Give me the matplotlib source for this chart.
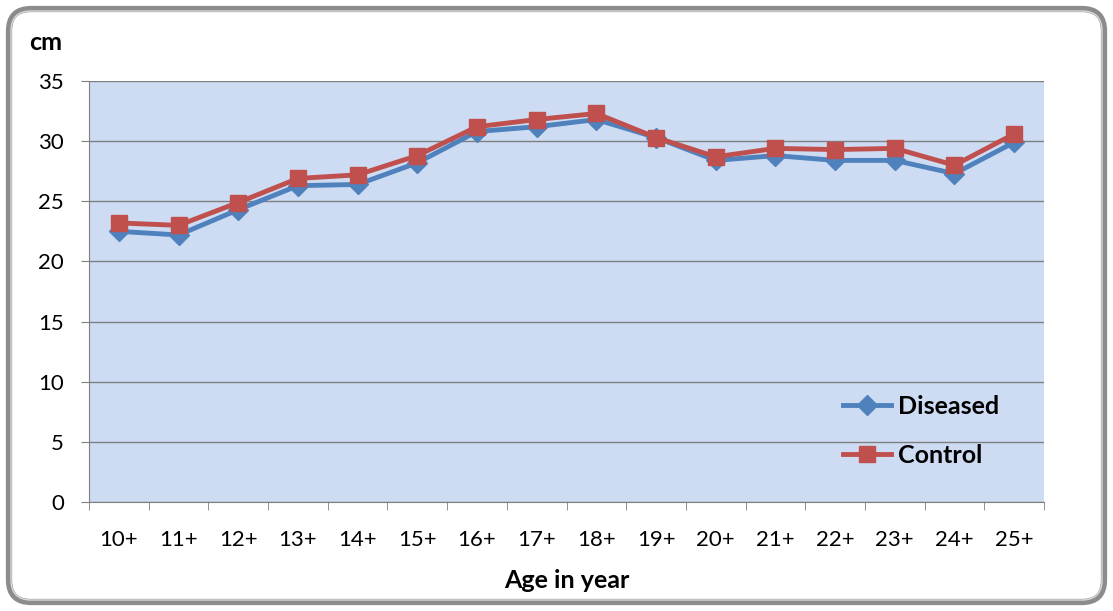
import numpy as np
import matplotlib.pyplot as plt
from matplotlib.patches import FancyBboxPatch
from matplotlib.transforms import IdentityTransform

# data
ages = ['10+', '11+', '12+', '13+', '14+', '15+', '16+', '17+',
        '18+', '19+', '20+', '21+', '22+', '23+', '24+', '25+']
diseased = [22.5, 22.2, 24.3, 26.3, 26.4, 28.2, 30.8, 31.2,
            31.8, 30.3, 28.4, 28.8, 28.4, 28.4, 27.3, 29.9]
control = [23.2, 23.0, 24.9, 26.9, 27.2, 28.8, 31.2, 31.8,
           32.3, 30.3, 28.7, 29.4, 29.3, 29.4, 28.0, 30.6]

plt.rcParams['font.family'] = ['Lato', 'DejaVu Sans']

fig = plt.figure(figsize=(11.13, 6.11), dpi=100)
fig.patch.set_facecolor('white')

# rounded outer frame (pixel coords)
fig.patches.append(FancyBboxPatch((9, 9), 1095, 593, boxstyle='round,pad=0,rounding_size=22',
                                  transform=IdentityTransform(), fill=False,
                                  edgecolor='#8c8c8c', linewidth=4.5))
fig.patches.append(FancyBboxPatch((11, 11), 1091, 589, boxstyle='round,pad=0,rounding_size=20',
                                  transform=IdentityTransform(), fill=False,
                                  edgecolor='#d9d9d9', linewidth=1.0))

ax = fig.add_axes([0.080, 0.1784, 0.858, 0.689])
ax.set_facecolor('#cddcf3')

x = np.arange(len(ages))
ax.plot(x, diseased, color='#4F81BD', lw=3.5, marker='D', ms=10, label='Diseased', zorder=3)
ax.plot(x, control, color='#C0504D', lw=3.5, marker='s', ms=12, label='Control', zorder=4)

ax.set_xlim(-0.5, len(ages) - 0.5)
ax.set_ylim(0, 35)
ax.set_yticks(range(0, 36, 5))
ax.yaxis.grid(True, color='#7f7f7f', lw=1)
ax.set_axisbelow(True)

ax.set_xticks(x)
ax.set_xticklabels(ages, fontsize=16)
ax.set_xticks(np.arange(-0.5, len(ages), 1), minor=True)
ax.tick_params(axis='x', which='major', length=0, pad=20)
ax.tick_params(axis='x', which='minor', length=6, color='#7f7f7f')
ax.tick_params(axis='y', labelsize=16, length=6, color='#7f7f7f', pad=12)

for s in ['top', 'right']:
    ax.spines[s].set_visible(False)
for s in ['left', 'bottom']:
    ax.spines[s].set_color('#7f7f7f')

ax.set_xlabel('Age in year', fontsize=18, fontweight='bold', labelpad=14)
fig.text(0.026, 0.918, 'cm', fontsize=18, fontweight='bold')

leg = ax.legend(loc='lower right', bbox_to_anchor=(0.977, 0.03), frameon=False,
                prop={'size': 18, 'weight': 'bold'}, handlelength=1.9,
                labelspacing=1.05, handletextpad=0.3)

fig.savefig('out.png', dpi=100)
